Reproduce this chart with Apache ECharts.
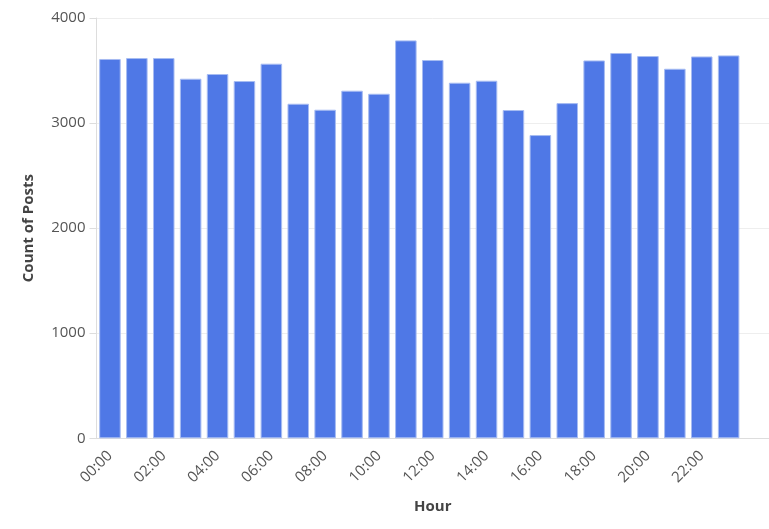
<!DOCTYPE html>
<html><head><meta charset="utf-8">
<script src="https://cdn.jsdelivr.net/npm/echarts@6/dist/echarts.min.js"></script>
<style>html,body{margin:0;padding:0;background:#fff}#c{width:769px;height:529px}</style>
</head><body><div id="c"></div>
<script>
const hours = ["00:00","01:00","02:00","03:00","04:00","05:00","06:00","07:00","08:00","09:00","10:00","11:00","12:00","13:00","14:00","15:00","16:00","17:00","18:00","19:00","20:00","21:00","22:00","23:00",""];
const counts = [3610,3619,3619,3422,3467,3400,3565,3184,3127,3308,3279,3787,3600,3384,3403,3124,2886,3190,3596,3667,3638,3517,3634,3644,null];
const yTicks = [0,1000,2000,3000,4000];

const chart = echarts.init(document.getElementById('c'));
chart.setOption({
  animation:false,
  grid:{left:96.5,right:0,top:18,bottom:90.7,containLabel:false},
  xAxis:{
    type:'category', data:hours,
    name:'Hour', nameLocation:'middle', nameGap:61,
    nameTextStyle:{fontFamily:'Open Sans',fontSize:15,fontWeight:'bold',color:'#444'},
    axisLine:{lineStyle:{color:'#ddd'}},
    axisTick:{alignWithLabel:true,length:6,lineStyle:{color:'#ddd'},interval:(i)=>i<24},
    axisLabel:{interval:1,rotate:45,fontFamily:'Open Sans',fontSize:15,color:'#555',margin:15},
  },
  yAxis:{
    type:'value', min:yTicks[0], max:yTicks[yTicks.length-1], interval:1000,
    name:'Count of Posts', nameLocation:'middle', nameGap:60,
    nameTextStyle:{fontFamily:'Open Sans',fontSize:15,fontWeight:'bold',color:'#444'},
    axisLine:{show:true,lineStyle:{color:'#ddd'}},
    axisTick:{show:true,length:7,lineStyle:{color:'#ddd'}},
    axisLabel:{fontFamily:'Open Sans',fontSize:15,color:'#555',margin:11,formatter:(v)=>String(v)},
    splitLine:{lineStyle:{color:'#eee'}}
  },
  series:[{
    type:'bar', data:counts, barCategoryGap:'20%',
    itemStyle:{color:'#4f78e6',borderColor:'#a7bcf2',borderWidth:1}
  }]
});
</script></body></html>
